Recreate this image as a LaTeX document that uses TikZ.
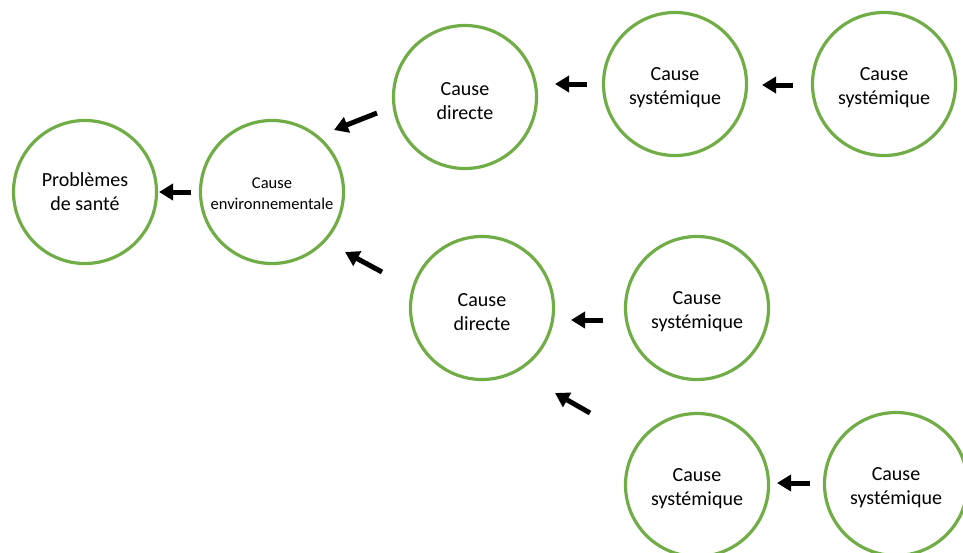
\documentclass[tikz,border=0pt]{standalone}
\usepackage{fontspec}
\setmainfont{Carlito}
\usetikzlibrary{arrows.meta,calc}
\definecolor{cgreen}{HTML}{70AD47}
\newcommand{\lowstrut}{\rule{0pt}{21pt}}
\tikzset{
  cnode/.style={circle, draw=cgreen, line width=3.2pt, minimum size=143pt, inner sep=0pt, outer sep=0pt,
    align=center, font=\fontsize{20pt}{24pt}\selectfont},
  smalltext/.style={font=\fontsize{16.5pt}{20.5pt}\selectfont},
  arr/.style={line width=5pt, -{Triangle[length=14pt,width=16pt]}, black}
}
\begin{document}
\begin{tikzpicture}[x=1pt,y=-1pt]
\useasboundingbox (0,0) rectangle (963,552);
\node[cnode] (P) at (85,192) {Problèmes\\de santé};
\node[cnode, smalltext] (E) at (272,192) {\rule{0pt}{14pt}Cause\\environnementale};
\node[cnode] (D1) at (465,97) {\lowstrut Cause\\directe};
\node[cnode] (S1) at (675,84) {\lowstrut Cause\\systémique};
\node[cnode] (S2) at (884,84) {\lowstrut Cause\\systémique};
\node[cnode] (D2) at (482,308) {\lowstrut Cause\\directe};
\node[cnode] (S3) at (697,308) {\lowstrut Cause\\systémique};
\node[cnode] (S4) at (697,485) {\lowstrut Cause\\systémique};
\node[cnode] (S5) at (896,484) {\lowstrut Cause\\systémique};

\draw[arr] ($(E)+(-81,0)$) -- ($(P)+(74,0)$);
\draw[arr] ($(D1)+(-88,16)$) -- ($(E)+(62,-62)$);
\draw[arr] ($(D2)+(-100,-36)$) -- ($(E)+(73,60)$);
\draw[arr] ($(S1)+(-88,0)$) -- ($(D1)+(90,-13)$);
\draw[arr] ($(S2)+(-91,1)$) -- ($(S1)+(87,1)$);
\draw[arr] ($(S3)+(-94,12)$) -- ($(D2)+(89,12)$);
\draw[arr] ($(S4)+(-107,-72)$) -- ($(D2)+(73,85)$);
\draw[arr] ($(S5)+(-86,-1)$) -- ($(S4)+(80,-2)$);
\end{tikzpicture}
\end{document}
